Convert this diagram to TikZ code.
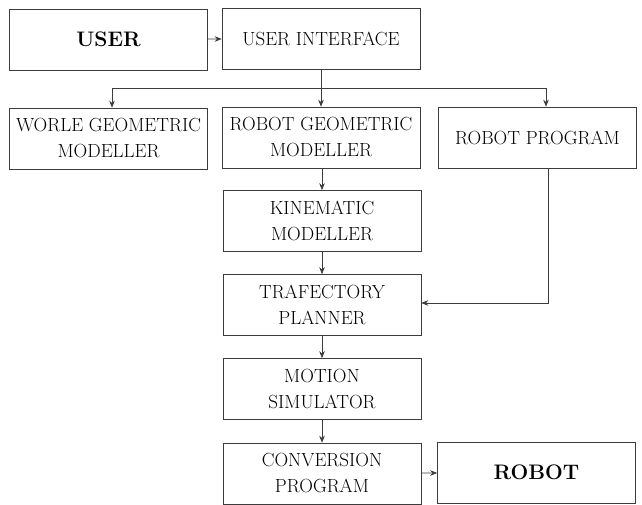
\documentclass[tikz,border=0pt]{standalone}
\usepackage{tikz}
\usetikzlibrary{arrows.meta,calc,positioning}
\definecolor{InkGray}{RGB}{60,60,60}
\tikzset{
  blockbox/.style={draw=InkGray,line width=0.6pt,minimum width=198pt,minimum height=61pt,
    inner sep=0pt,align=center,font=\fontsize{19}{26}\selectfont},
  endbox/.style={blockbox,font=\fontsize{21}{24}\selectfont\bfseries},
  link/.style={InkGray,line width=0.6pt},
  flow/.style={link,-{Stealth[length=7pt,width=5.5pt]}}
}
\begin{document}
\begin{tikzpicture}[x=1pt,y=-1pt]
  \useasboundingbox (0,0) rectangle (642,504);
  % top row
  \node[endbox]   (user)  at (108.5,39.5) {USER};
  \node[blockbox] (ui)    at (321,38.5)   {USER INTERFACE};
  % modellers
  \node[blockbox] (world) at (108.5,138.5) {WORLE GEOMETRIC\\MODELLER};
  \node[blockbox] (rgeo)  at (321,137.5)   {ROBOT GEOMETRIC\\MODELLER};
  \node[blockbox] (rprog) at (537.5,137.5) {ROBOT PROGRAM};
  % main chain
  \node[blockbox] (kin)    at (322,221)   {KINEMATIC\\MODELLER};
  \node[blockbox] (traj)   at (322,305)   {TRAFECTORY\\PLANNER};
  \node[blockbox] (motion) at (322,389)   {MOTION\\SIMULATOR};
  \node[blockbox] (conv)   at (322,473.5) {CONVERSION\\PROGRAM};
  \node[endbox]   (robot)  at (536.5,472.5) {ROBOT};
  % connectors
  \coordinate (nl) at (112,88);
  \coordinate (nr) at (546,88);
  \coordinate (fb) at (548,303);
  \draw[flow] (user) -- (ui);
  \draw[flow] (ui) -- (rgeo);
  \draw[link] (nl) -- (nr);
  \draw[flow] (nl) -- (nl |- world.north);
  \draw[flow] (nr) -- (nr |- rprog.north);
  \draw[flow] (rgeo.south -| kin.north) -- (kin);
  \draw[flow] (kin) -- (traj);
  \draw[flow] (fb |- rprog.south) -- (fb) -- (fb -| traj.east);
  \draw[flow] (traj) -- (motion);
  \draw[flow] (motion) -- (conv);
  \draw[flow] (conv) -- (robot);
\end{tikzpicture}
\end{document}
